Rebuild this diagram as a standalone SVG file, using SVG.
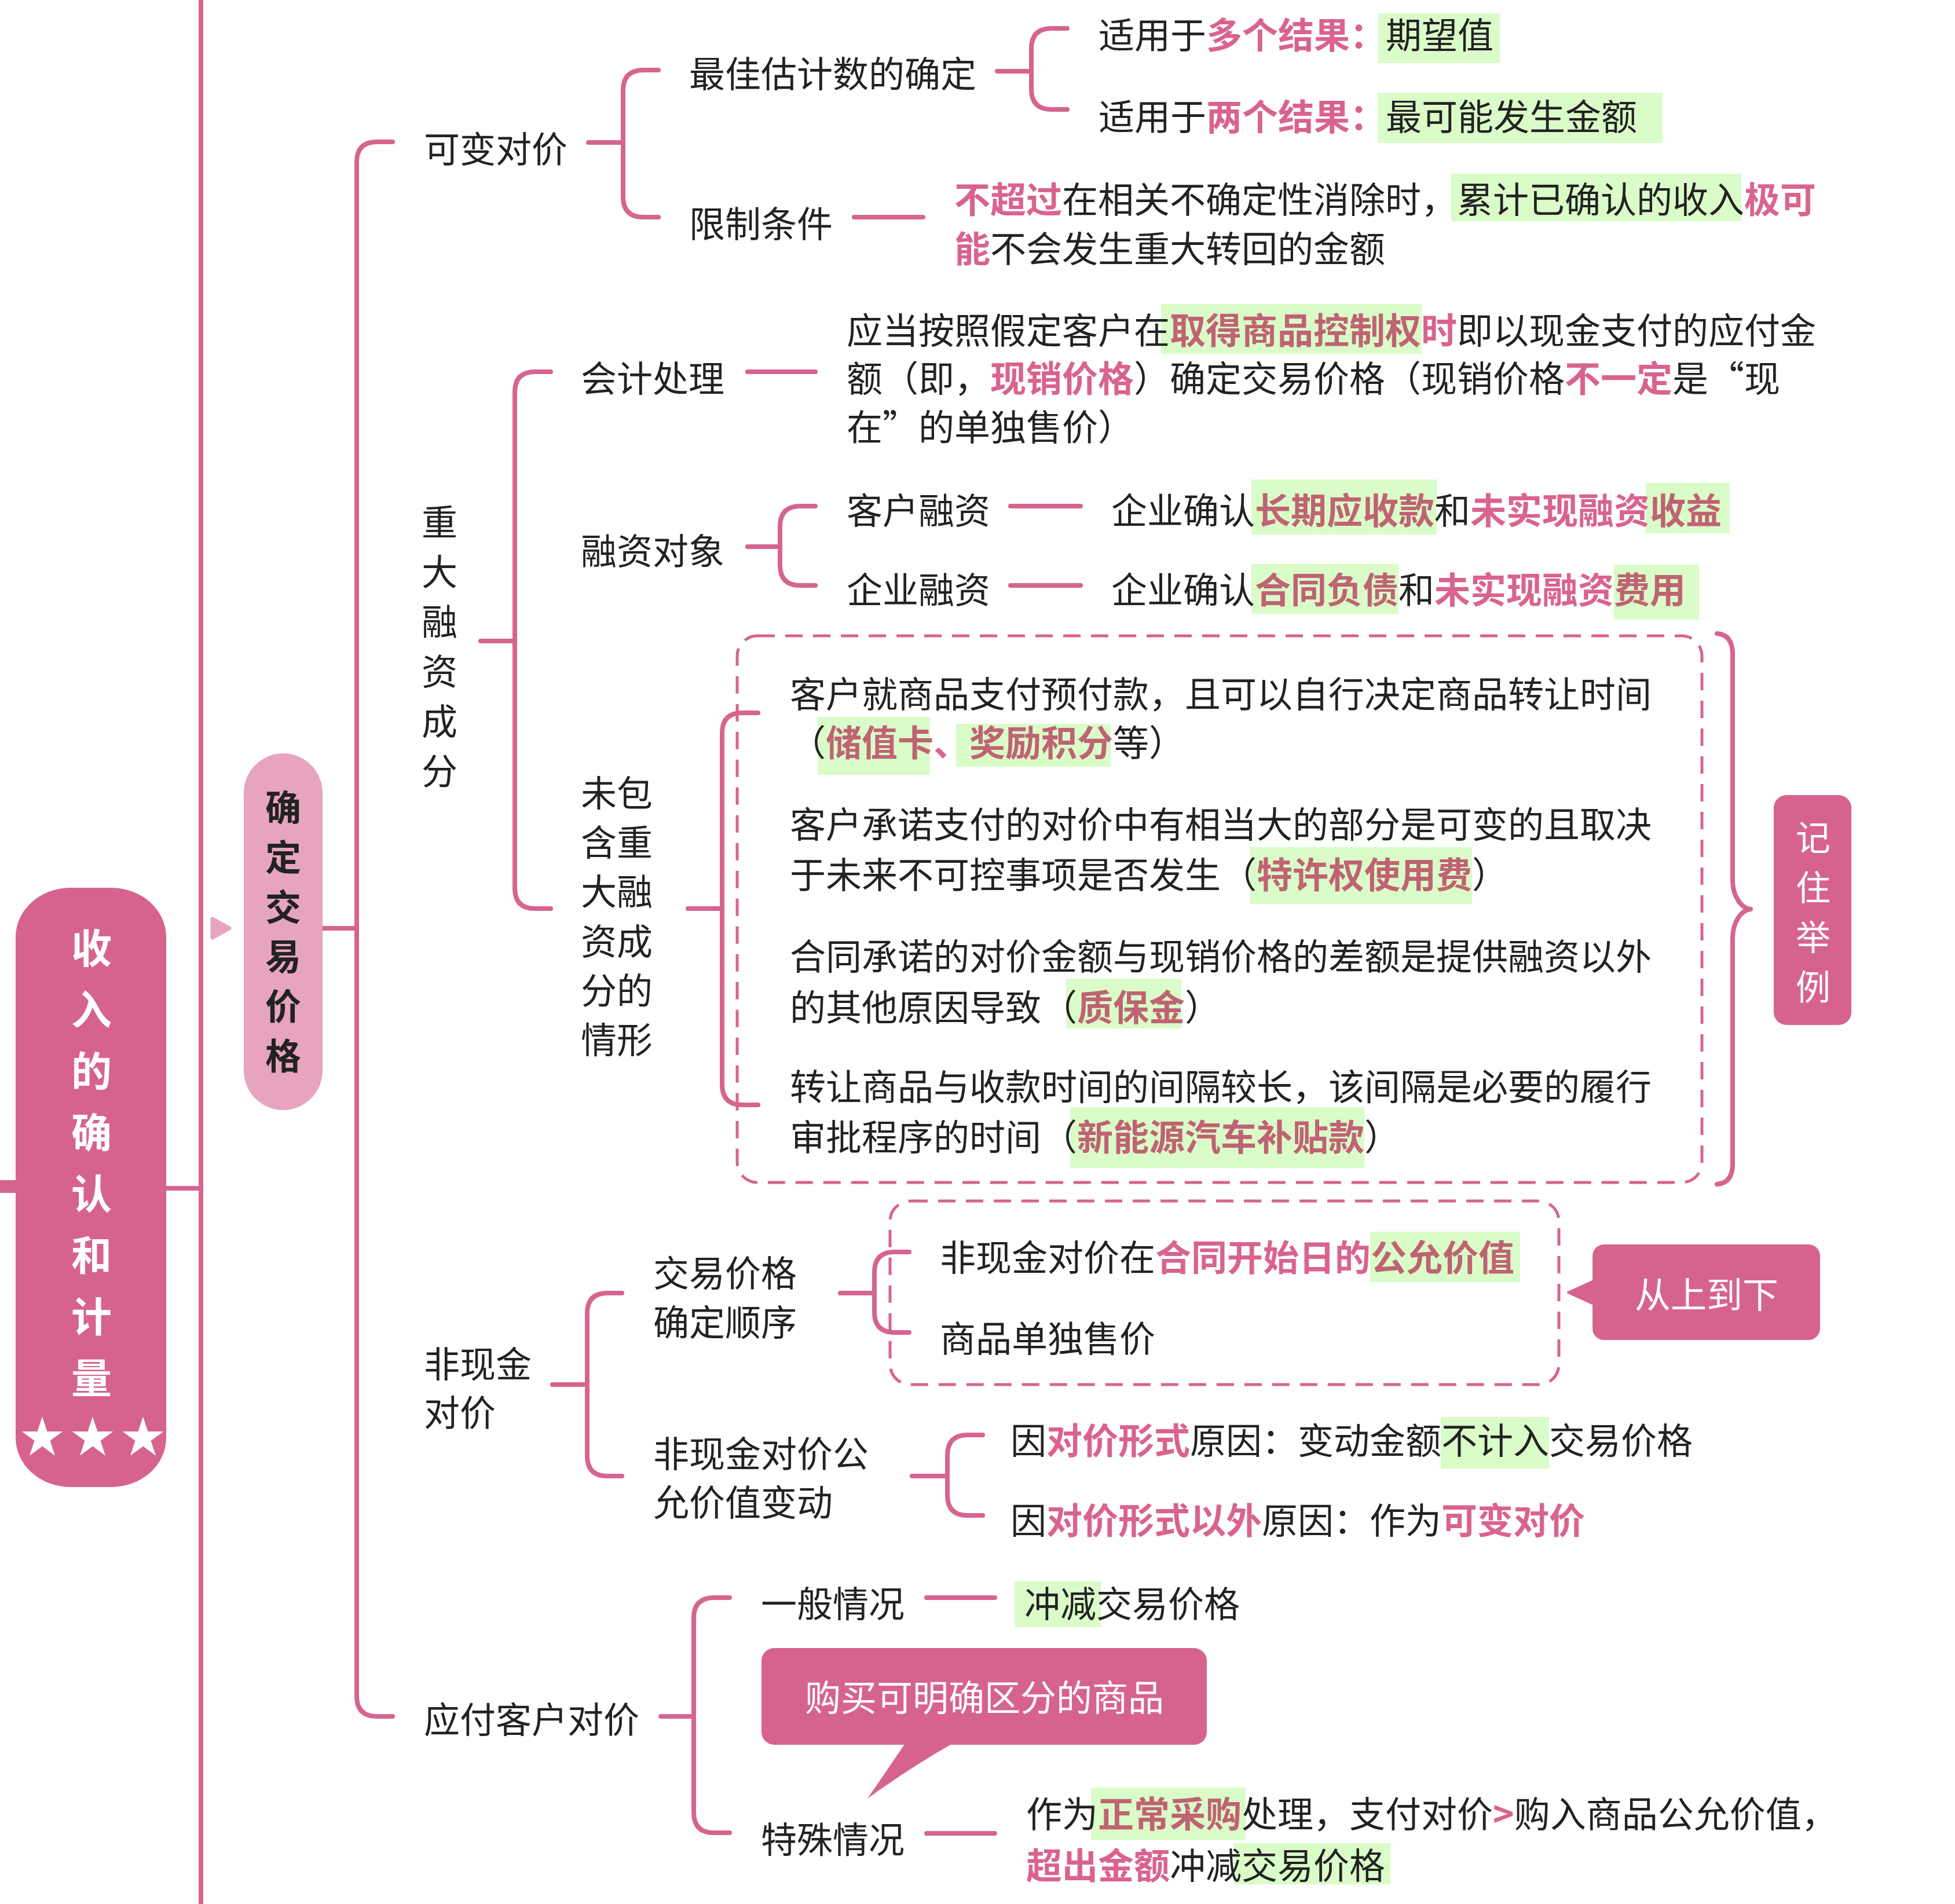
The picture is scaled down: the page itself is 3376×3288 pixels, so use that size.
<svg xmlns="http://www.w3.org/2000/svg" width="3376" height="3288" viewBox="0 0 3376 3288">
<style>
.t{font-family:"Noto Sans CJK SC","Noto Sans",sans-serif;font-size:62px;fill:#222}
.p{fill:#D9638F;font-weight:bold}
.pg{fill:#BF6373;font-weight:bold}
.hl{fill:#DAFCC8}
.ln{fill:none;stroke:#D6648F;stroke-width:8;stroke-linecap:round;stroke-linejoin:round}
.dash{fill:none;stroke:#D6648F;stroke-width:5;stroke-dasharray:30 18}
.box{fill:#D6638E}
.wt{font-family:"Noto Sans CJK SC","Noto Sans",sans-serif;fill:#fff}
.star{font-family:"DejaVu Sans","Noto Sans CJK SC",sans-serif;font-size:92px;fill:#fff}
</style>
<rect width="3376" height="3288" fill="#fff"/>
<g id="connectors">
<path class="ln" d="M347 -10V3298"/>
<path class="ln" d="M286 2052H347"/>
<path d="M-25 1990L-25 2019Q-25 2049 5 2049L30 2049" fill="none" stroke="#D6648F" stroke-width="22"/>
<path class="ln" d="M557 1603H616"/>
<path class="ln" d="M678 245H651Q616 245 616 280V2929Q616 2964 651 2964H678"/>
<path class="ln" d="M1016 246H1076"/>
<path class="ln" d="M1137 121H1111Q1076 121 1076 156V340Q1076 375 1111 375H1137"/>
<path class="ln" d="M1722 123H1781"/>
<path class="ln" d="M1843 49H1816Q1781 49 1781 84V154Q1781 189 1816 189H1843"/>
<path class="ln" d="M1475 375H1594"/>
<path class="ln" d="M830 1107H889"/>
<path class="ln" d="M951 642H924Q889 642 889 677V1534Q889 1569 924 1569H951"/>
<path class="ln" d="M1291 642H1408"/>
<path class="ln" d="M1291 944H1347"/>
<path class="ln" d="M1408 874H1382Q1347 874 1347 909V976Q1347 1011 1382 1011H1408"/>
<path class="ln" d="M1745 874H1866"/>
<path class="ln" d="M1745 1011H1866"/>
<path class="ln" d="M1188 1569H1247"/>
<path class="ln" d="M1309 1231H1282Q1247 1231 1247 1266V1873Q1247 1908 1282 1908H1309"/>
<path class="ln" d="M2965 1094Q2992 1096 2992 1130V1520C2992 1545 3005 1568 3023 1570C3005 1572 2992 1595 2992 1620V2010Q2992 2043 2965 2045"/>
<path class="ln" d="M954 2391H1014"/>
<path class="ln" d="M1074 2233H1049Q1014 2233 1014 2268V2514Q1014 2549 1049 2549H1074"/>
<path class="ln" d="M1451 2233H1510"/>
<path class="ln" d="M1570 2162H1545Q1510 2162 1510 2197V2266Q1510 2301 1545 2301H1570"/>
<path class="ln" d="M1575 2549H1636"/>
<path class="ln" d="M1697 2478H1671Q1636 2478 1636 2513V2582Q1636 2617 1671 2617H1697"/>
<path class="ln" d="M1141 2964H1198"/>
<path class="ln" d="M1260 2759H1233Q1198 2759 1198 2794V3130Q1198 3165 1233 3165H1260"/>
<path class="ln" d="M1600 2759H1718"/>
<path class="ln" d="M1600 3166H1718"/>
</g>
<g id="root">
<rect class="box" x="27" y="1533" width="260" height="1035" rx="95" ry="85"/>
<text class="wt" font-size="70" font-weight="bold" text-anchor="middle"><tspan x="158" y="1664">收</tspan><tspan x="158" y="1770">入</tspan><tspan x="158" y="1876">的</tspan><tspan x="158" y="1982">确</tspan><tspan x="158" y="2088">认</tspan><tspan x="158" y="2194">和</tspan><tspan x="158" y="2300">计</tspan><tspan x="158" y="2406">量</tspan></text>
<text class="star" text-anchor="middle"><tspan x="73" y="2513">★</tspan><tspan x="160" y="2513">★</tspan><tspan x="247" y="2513">★</tspan></text>
</g>
<g id="n-price">
<path d="M367 1587L396 1603L367 1619Z" fill="#E7A4BF" stroke="#E7A4BF" stroke-width="7" stroke-linejoin="round"/>
<rect x="421" y="1301" width="136" height="616" rx="68" fill="#E7A4BF"/>
<text class="t" font-size="60" font-weight="bold" text-anchor="middle"><tspan x="489" y="1418">确</tspan><tspan x="489" y="1504">定</tspan><tspan x="489" y="1590">交</tspan><tspan x="489" y="1675">易</tspan><tspan x="489" y="1761">价</tspan><tspan x="489" y="1847">格</tspan></text>
</g>
<g id="n-variable">
<text class="t" x="732" y="281">可变对价</text>
</g>
<g id="n-best">
<text class="t" x="1190" y="151">最佳估计数的确定</text>
<rect class="hl" x="2380" y="23" width="210" height="86"/>
<text class="t" x="1897" y="84">适用于<tspan class="p">多个结果：</tspan>期望值</text>
<rect class="hl" x="2379" y="160" width="492" height="87"/>
<text class="t" x="1897" y="225">适用于<tspan class="p">两个结果：</tspan>最可能发生金额</text>
</g>
<g id="n-limit">
<text class="t" x="1190" y="410">限制条件</text>
<rect class="hl" x="2506" y="300" width="501" height="82"/>
<text class="t" x="1648" y="368"><tspan class="p">不超过</tspan>在相关不确定性消除时，累计已确认的收入<tspan class="p">极可</tspan></text>
<text class="t" x="1648" y="453"><tspan class="p">能</tspan>不会发生重大转回的金额</text>
</g>
<g id="n-financing">
<text class="t" text-anchor="middle"><tspan x="759" y="925">重</tspan><tspan x="759" y="1011">大</tspan><tspan x="759" y="1097">融</tspan><tspan x="759" y="1183">资</tspan><tspan x="759" y="1269">成</tspan><tspan x="759" y="1355">分</tspan></text>
</g>
<g id="n-accounting">
<text class="t" x="1003" y="677">会计处理</text>
<rect class="hl" x="2005" y="525" width="450" height="86"/>
<text class="t" x="1462" y="594">应当按照假定客户在<tspan class="pg">取得商品控制权</tspan><tspan class="p">时</tspan>即以现金支付的应付金</text>
<text class="t" x="1462" y="677">额（即，<tspan class="p">现销价格</tspan>）确定交易价格（现销价格<tspan class="p">不一定</tspan>是“现</text>
<text class="t" x="1462" y="761">在”的单独售价）</text>
</g>
<g id="n-object">
<text class="t" x="1003" y="975">融资对象</text>
<text class="t" x="1462" y="905">客户融资</text>
<text class="t" x="1462" y="1042">企业融资</text>
<rect class="hl" x="2161" y="828" width="320" height="95"/>
<rect class="hl" x="2842" y="834" width="145" height="87"/>
<text class="t" x="1919" y="905">企业确认<tspan class="pg">长期应收款</tspan>和<tspan class="p">未实现融资</tspan><tspan class="pg">收益</tspan></text>
<rect class="hl" x="2161" y="974" width="254" height="86"/>
<rect class="hl" x="2787" y="975" width="147" height="95"/>
<text class="t" x="1919" y="1042">企业确认<tspan class="pg">合同负债</tspan>和<tspan class="p">未实现融资</tspan><tspan class="pg">费用</tspan></text>
</g>
<g id="n-nofinancing">
<text class="t"><tspan x="1003" y="1393">未包</tspan><tspan x="1003" y="1478">含重</tspan><tspan x="1003" y="1563">大融</tspan><tspan x="1003" y="1649">资成</tspan><tspan x="1003" y="1734">分的</tspan><tspan x="1003" y="1819">情形</tspan></text>
</g>
<g id="n-cases">
<rect class="dash" x="1273" y="1098" width="1666" height="944" rx="35"/>
<rect class="hl" x="1412" y="1238" width="194" height="100"/>
<rect class="hl" x="1651" y="1250" width="267" height="74"/>
<rect class="hl" x="2158" y="1463" width="384" height="98"/>
<rect class="hl" x="1841" y="1690" width="199" height="86"/>
<rect class="hl" x="1848" y="1912" width="508" height="105"/>
<text class="t" x="1364" y="1222">客户就商品支付预付款，且可以自行决定商品转让时间</text>
<text class="t" x="1364" y="1306">（<tspan class="pg">储值卡</tspan><tspan class="p">、</tspan><tspan class="pg">奖励积分</tspan>等）</text>
<text class="t" x="1364" y="1447">客户承诺支付的对价中有相当大的部分是可变的且取决</text>
<text class="t" x="1364" y="1534">于未来不可控事项是否发生（<tspan class="pg">特许权使用费</tspan>）</text>
<text class="t" x="1364" y="1675">合同承诺的对价金额与现销价格的差额是提供融资以外</text>
<text class="t" x="1364" y="1763">的其他原因导致（<tspan class="pg">质保金</tspan>）</text>
<text class="t" x="1364" y="1900">转让商品与收款时间的间隔较长，该间隔是必要的履行</text>
<text class="t" x="1364" y="1987">审批程序的时间（<tspan class="pg">新能源汽车补贴款</tspan>）</text>
</g>
<g id="n-remember">
<rect class="box" x="3063" y="1373" width="134" height="397" rx="22"/>
<text class="wt" font-size="60" text-anchor="middle"><tspan x="3131" y="1469">记</tspan><tspan x="3131" y="1555">住</tspan><tspan x="3131" y="1641">举</tspan><tspan x="3131" y="1727">例</tspan></text>
</g>
<g id="n-noncash">
<text class="t"><tspan x="732" y="2379">非现金</tspan><tspan x="732" y="2463">对价</tspan></text>
</g>
<g id="n-order">
<text class="t"><tspan x="1128" y="2222">交易价格</tspan><tspan x="1128" y="2307">确定顺序</tspan></text>
<rect class="dash" x="1537" y="2074" width="1155" height="317" rx="35"/>
<rect class="hl" x="2366" y="2127" width="259" height="87"/>
<text class="t" x="1623" y="2195">非现金对价在<tspan class="p">合同开始日的</tspan><tspan class="pg">公允价值</tspan></text>
<text class="t" x="1623" y="2335">商品单独售价</text>
</g>
<g id="n-topdown">
<path class="box" d="M2752 2212L2708 2232L2752 2252Z" stroke="#D6638E" stroke-width="4" stroke-linejoin="round"/>
<rect class="box" x="2750" y="2149" width="393" height="165" rx="20"/>
<text class="wt" font-size="62" text-anchor="middle" x="2947" y="2259">从上到下</text>
</g>
<g id="n-fairchange">
<text class="t"><tspan x="1128" y="2534">非现金对价公</tspan><tspan x="1128" y="2618">允价值变动</tspan></text>
<rect class="hl" x="2488" y="2447" width="187" height="89"/>
<text class="t" x="1745" y="2511">因<tspan class="p">对价形式</tspan>原因：变动金额不计入交易价格</text>
<text class="t" x="1745" y="2649">因<tspan class="p">对价形式以外</tspan>原因：作为<tspan class="p">可变对价</tspan></text>
</g>
<g id="n-payable">
<text class="t" x="732" y="2993">应付客户对价</text>
</g>
<g id="n-general">
<text class="t" x="1314" y="2793">一般情况</text>
<rect class="hl" x="1752" y="2731" width="149" height="79"/>
<text class="t" x="1769" y="2793">冲减交易价格</text>
</g>
<g id="n-distinct">
<path class="box" d="M1565 3008L1498 3106Q1575 3050 1650 3008Z"/>
<rect class="box" x="1315" y="2846" width="769" height="167" rx="22"/>
<text class="wt" font-size="62" text-anchor="middle" x="1700" y="2955">购买可明确区分的商品</text>
</g>
<g id="n-special">
<text class="t" x="1314" y="3200">特殊情况</text>
<rect class="hl" x="1884" y="3087" width="267" height="90"/>
<rect class="hl" x="2131" y="3183" width="270" height="71"/>
<text class="t" x="1772" y="3156">作为<tspan class="pg">正常采购</tspan>处理，支付对价<tspan class="p">&gt;</tspan>购入商品公允价值，</text>
<text class="t" x="1772" y="3245"><tspan class="p">超出金额</tspan>冲减交易价格</text>
</g>
</svg>
